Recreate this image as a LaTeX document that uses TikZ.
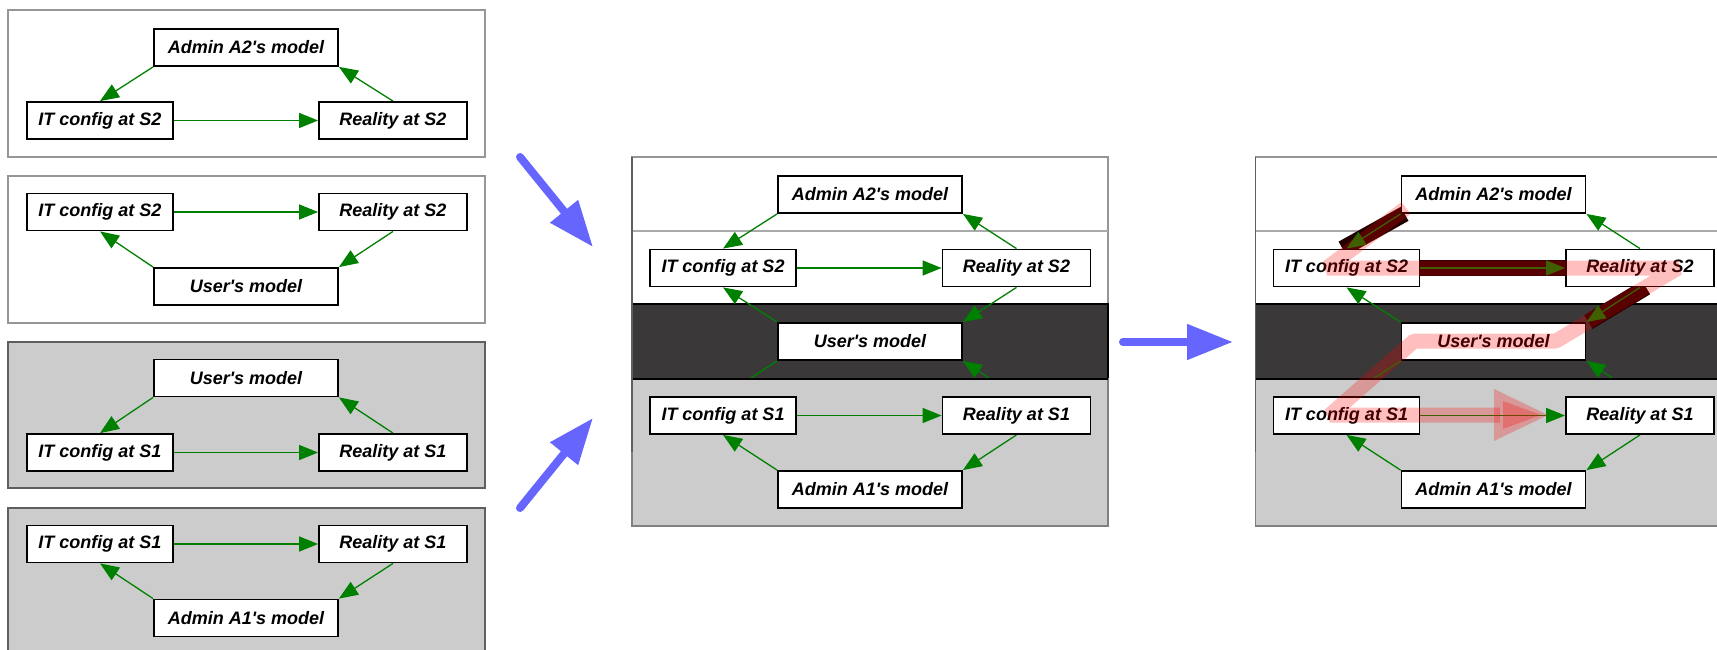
\documentclass[tikz,border=0pt]{standalone}
\usepackage{fontspec}
\setmainfont{Liberation Sans}
\usetikzlibrary{arrows.meta}
\pgfdeclarelayer{bgA}
\pgfdeclarelayer{lowedge}
\pgfdeclarelayer{bgB}
\pgfdeclarelayer{edges}
\pgfdeclarelayer{top}
\pgfsetlayers{bgA,lowedge,bgB,edges,main,top}
\definecolor{edgegreen}{RGB}{0,128,0}
\definecolor{darkband}{RGB}{58,56,56}
\definecolor{lightpanel}{RGB}{204,204,204}
\definecolor{wborder}{RGB}{150,150,150}
\definecolor{gborder}{RGB}{95,95,95}
\definecolor{sepline}{RGB}{170,170,170}
\definecolor{bluearrow}{RGB}{102,102,255}
\definecolor{maroonband}{RGB}{34,0,0}
\tikzset{
  mbox/.style={draw=black, line width=1.8pt, fill=white, minimum height=37pt,
    inner sep=0pt, font=\fontsize{18}{20}\selectfont\bfseries\itshape},
  widebox/.style={mbox, minimum width=184pt},
  itbox/.style={mbox, minimum width=146pt},
  rebox/.style={mbox, minimum width=148pt},
  garrow/.style={draw=edgegreen, line width=1.3pt, -{Triangle[length=19pt,width=15pt]}},
  barrow/.style={draw=bluearrow, line width=8pt, line cap=round, -{Triangle[length=46pt,width=34pt]}},
  wpanel/.style={draw=wborder, line width=1.3pt, fill=white},
  gpanel/.style={draw=gborder, line width=1.3pt, fill=lightpanel},
  maroonpath/.style={draw=maroonband, line width=16pt},
  pinkpath/.style={draw=red, opacity=0.25, line width=15pt, line join=bevel},
  pinktip/.style={fill=red, opacity=0.25}
}
\newcommand{\aps}{\textquotesingle}
\begin{document}
\begin{tikzpicture}[x=1pt,y=-1pt]
\useasboundingbox (0,0) rectangle (1717,650);

% ---------------- left panels ----------------
\begin{pgfonlayer}{bgA}
  \draw[wpanel] (8,10) rectangle (485,157);
  \draw[wpanel] (8,176) rectangle (485,323);
  \draw[gpanel] (8,342) rectangle (485,488);
  \draw[gpanel] (8,508) rectangle (485,653);
\end{pgfonlayer}

\node[widebox] (p1a2) at (246,47.5) {Admin A2\aps s model};
\node[itbox]   (p1it) at (100,120.5) {IT config at S2};
\node[rebox]   (p1re) at (393,120.5) {Reality at S2};

\node[itbox]   (p2it) at (100,212) {IT config at S2};
\node[rebox]   (p2re) at (393,212) {Reality at S2};
\node[widebox] (p2u)  at (246,286.5) {User\aps s model};

\node[widebox] (p3u)  at (246,378) {User\aps s model};
\node[itbox]   (p3it) at (100,452.5) {IT config at S1};
\node[rebox]   (p3re) at (393,452.5) {Reality at S1};

\node[itbox]   (p4it) at (100,544) {IT config at S1};
\node[rebox]   (p4re) at (393,544) {Reality at S1};
\node[widebox] (p4a1) at (246,618) {Admin A1\aps s model};

\begin{pgfonlayer}{edges}
  \draw[garrow] (p1a2.south west) -- (p1it.north);
  \draw[garrow] (p1it.east) -- (p1re.west);
  \draw[garrow] (p1re.north) -- (p1a2.south east);

  \draw[garrow] (p2it.east) -- (p2re.west);
  \draw[garrow] (p2re.south) -- (p2u.north east);
  \draw[garrow] (p2u.north west) -- (p2it.south);

  \draw[garrow] (p3u.south west) -- (p3it.north);
  \draw[garrow] (p3it.east) -- (p3re.west);
  \draw[garrow] (p3re.north) -- (p3u.south east);

  \draw[garrow] (p4it.east) -- (p4re.west);
  \draw[garrow] (p4re.south) -- (p4a1.north east);
  \draw[garrow] (p4a1.north west) -- (p4it.south);
\end{pgfonlayer}

% ---------------- middle panel ----------------
\begin{pgfonlayer}{bgA}
  \draw[wpanel] (632,157) rectangle (1108,304);
  \draw[sepline, line width=1.2pt] (632,231) -- (1108,231);
  \draw[black, line width=1.3pt, fill=darkband] (632,304) rectangle (1108,379);
\end{pgfonlayer}
\begin{pgfonlayer}{bgB}
  \draw[gpanel, draw=gray] (632,379) rectangle (1108,526);
  \draw[black, line width=1.3pt] (632,379) -- (1108,379);
  \draw[gborder, line width=1.3pt] (632,157) -- (632,452);
\end{pgfonlayer}

\node[widebox] (ma2)  at (870,194.5) {Admin A2\aps s model};
\node[itbox]   (mit2) at (723,268) {IT config at S2};
\node[rebox]   (mre2) at (1016.5,268) {Reality at S2};
\node[widebox] (mu)   at (870,341.5) {User\aps s model};
\node[itbox]   (mit1) at (723,415.5) {IT config at S1};
\node[rebox]   (mre1) at (1016.5,415.5) {Reality at S1};
\node[widebox] (ma1)  at (870,489.5) {Admin A1\aps s model};

\begin{pgfonlayer}{lowedge}
  \draw[garrow] (mu.south west) -- (mit1.north);
  \draw[garrow] (mre1.north) -- (mu.south east);
\end{pgfonlayer}
\begin{pgfonlayer}{edges}
  \draw[garrow] (ma2.south west) -- (mit2.north);
  \draw[garrow] (mre2.north) -- (ma2.south east);
  \draw[garrow] (mit2.east) -- (mre2.west);
  \draw[garrow] (mu.north west) -- (mit2.south);
  \draw[garrow] (mre2.south) -- (mu.north east);
  \draw[garrow] (mit1.east) -- (mre1.west);
  \draw[garrow] (mre1.south) -- (ma1.north east);
  \draw[garrow] (ma1.north west) -- (mit1.south);
\end{pgfonlayer}

% ---------------- right panel ----------------
\begin{pgfonlayer}{bgA}
  \draw[wpanel] (1255.5,157) rectangle (1720,304);
  \draw[sepline, line width=1.2pt] (1255.5,231) -- (1720,231);
  \draw[black, line width=1.3pt, fill=darkband] (1255.5,304) rectangle (1720,379);
\end{pgfonlayer}
\begin{pgfonlayer}{bgB}
  \draw[gpanel, draw=gray] (1255.5,379) rectangle (1720,526);
  \draw[black, line width=1.3pt] (1255.5,379) -- (1720,379);
  \draw[gborder, line width=1.3pt] (1255.5,157) -- (1255.5,452);
\end{pgfonlayer}

\node[widebox] (ra2)  at (1493.5,194.5) {Admin A2\aps s model};
\node[itbox]   (rit2) at (1346.5,268) {IT config at S2};
\node[rebox]   (rre2) at (1640,268) {Reality at S2};
\node[widebox] (ru)   at (1493.5,341.5) {User\aps s model};
\node[itbox]   (rit1) at (1346.5,415.5) {IT config at S1};
\node[rebox]   (rre1) at (1640,415.5) {Reality at S1};
\node[widebox] (ra1)  at (1493.5,489.5) {Admin A1\aps s model};

\begin{pgfonlayer}{lowedge}
  \draw[garrow] (ru.south west) -- (rit1.north);
  \draw[garrow] (rre1.north) -- (ru.south east);
\end{pgfonlayer}
\begin{pgfonlayer}{edges}
  \draw[maroonpath] ([xshift=4pt]ra2.south west) -- ([xshift=-4pt]rit2.north);
  \draw[maroonpath] (rit2.east) -- (rre2.west);
  \draw[maroonpath] ([xshift=6pt]rre2.south) -- ([xshift=2pt]ru.north east);
  \draw[garrow] (ra2.south west) -- (rit2.north);
  \draw[garrow] (rre2.north) -- (ra2.south east);
  \draw[garrow] (rit2.east) -- (rre2.west);
  \draw[garrow] (ru.north west) -- (rit2.south);
  \draw[garrow] (rre2.south) -- (ru.north east);
  \draw[garrow] (rit1.east) -- (rre1.west);
  \draw[garrow] (rre1.south) -- (ra1.north east);
  \draw[garrow] (ra1.north west) -- (rit1.south);
\end{pgfonlayer}

% highlight path
\coordinate (h0) at (1406,208);
\coordinate (h1) at (1327,268);
\coordinate (h2) at (1678,268);
\coordinate (h3) at (1556,341);
\coordinate (h4) at (1414,341);
\coordinate (h5) at (1330,415);
\coordinate (h6) at (1500,415);
\begin{pgfonlayer}{top}
  \draw[pinkpath] (h0) -- (h1) -- (h2) -- (h3) -- (h4) -- (h5) -- (h6);
  \fill[pinktip] (1494,389) -- (1548,415) -- (1494,441) -- cycle;
  \fill[pinktip] (1503,401) -- (1541,415) -- (1503,429) -- cycle;
\end{pgfonlayer}

% ---------------- blue arrows ----------------
\coordinate (b1s) at (520,157);
\coordinate (b1e) at (593,247);
\coordinate (b2s) at (520,508);
\coordinate (b2e) at (593,418);
\coordinate (b3s) at (1123,342);
\coordinate (b3e) at (1233,342);
\draw[barrow] (b1s) -- (b1e);
\draw[barrow] (b2s) -- (b2e);
\draw[barrow] (b3s) -- (b3e);
\end{tikzpicture}
\end{document}
